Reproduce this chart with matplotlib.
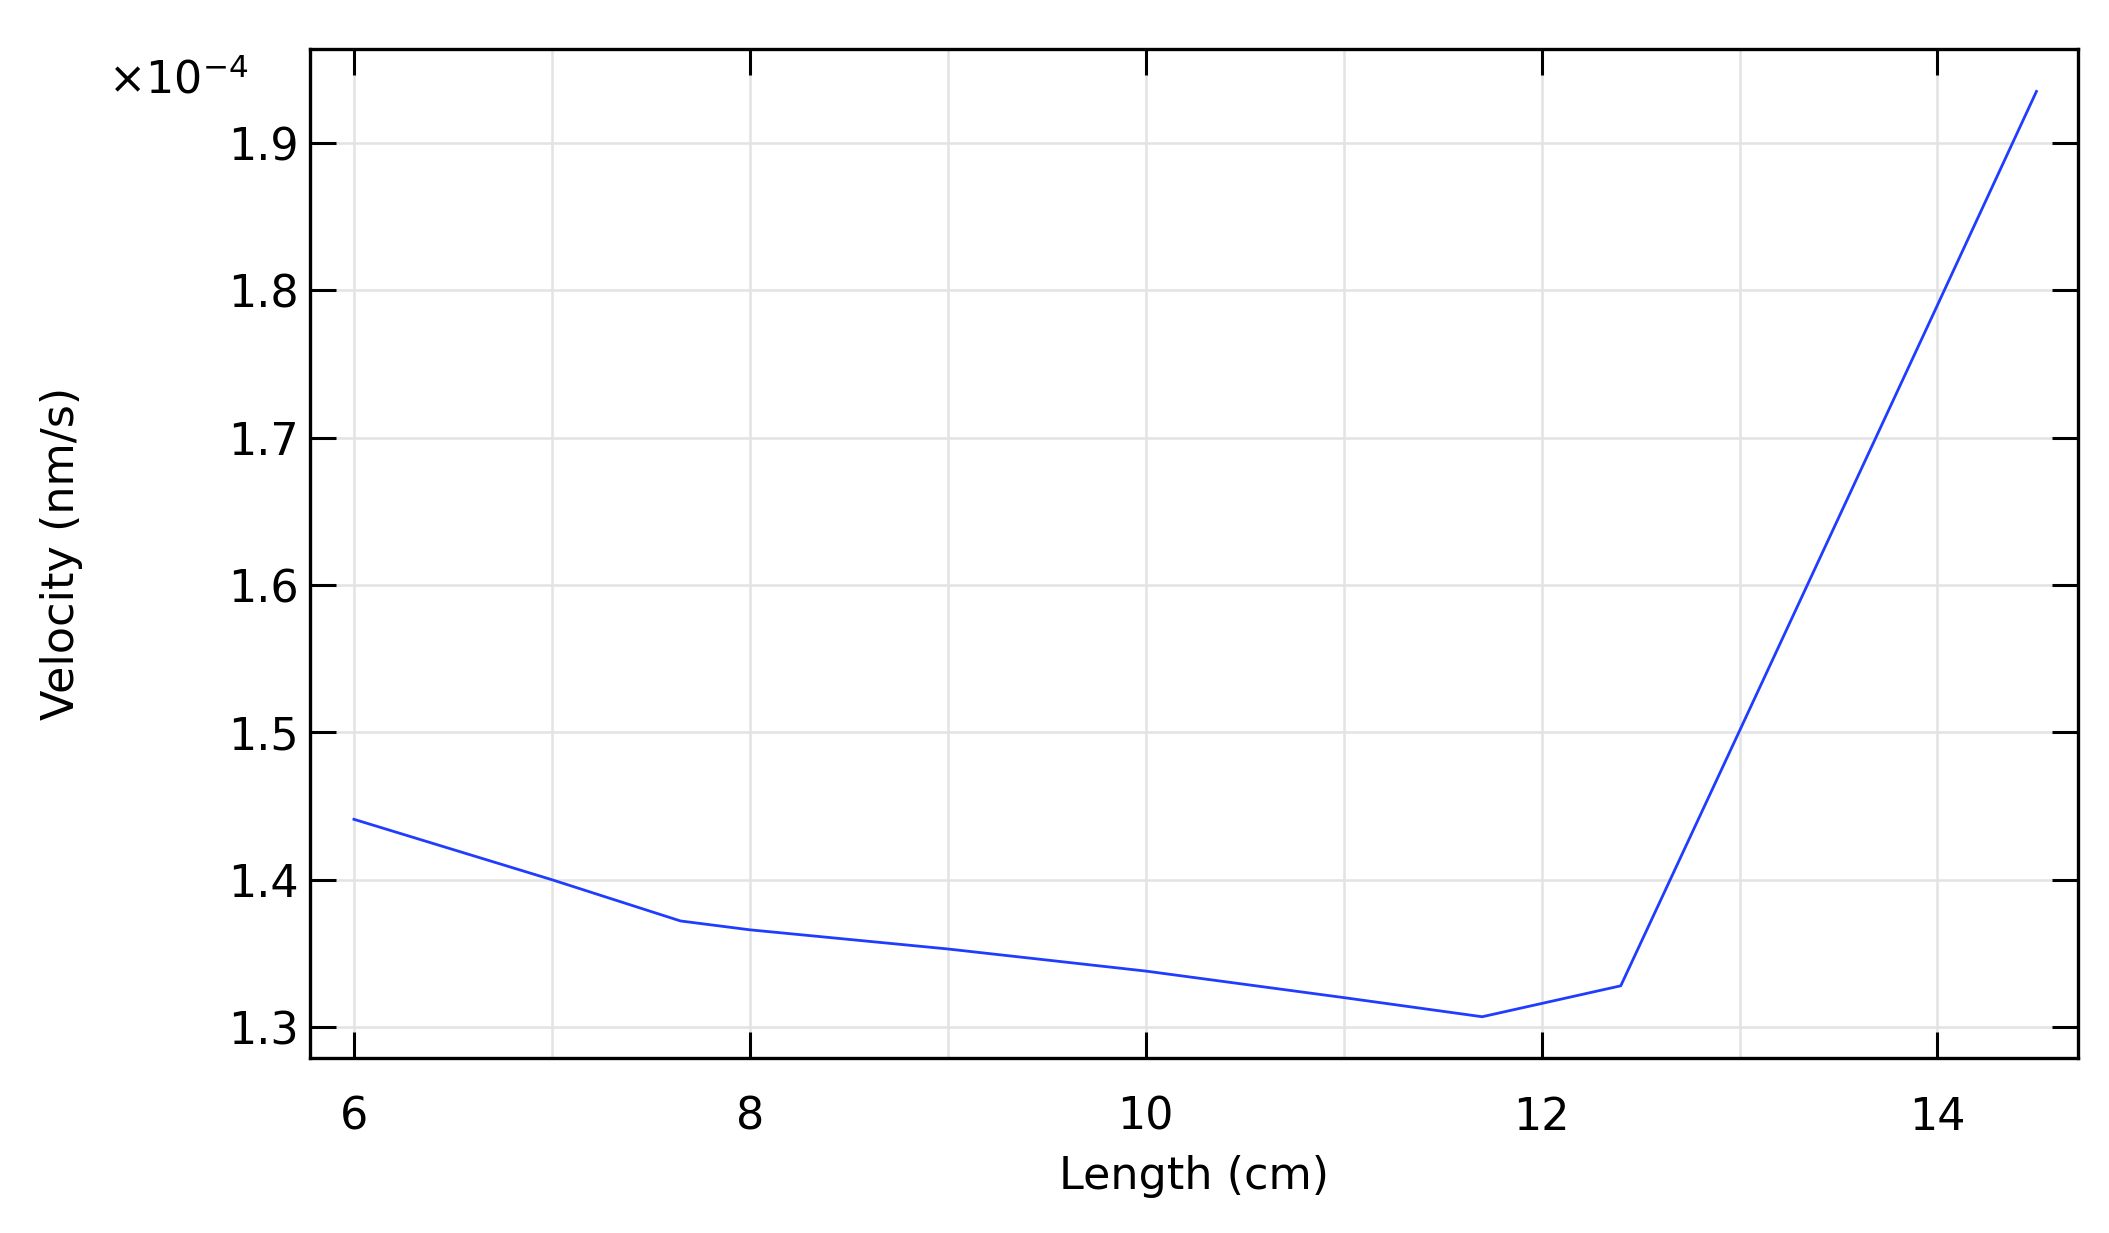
import matplotlib
matplotlib.use("Agg")
import matplotlib.pyplot as plt

# Data (velocity in units of 1e-4 nm/s)
length_cm = [6.0, 7.0, 7.65, 8.0, 9.0, 10.0, 11.0, 11.7, 12.4, 13.0, 14.0, 14.5]
velocity = [1.441, 1.400, 1.372, 1.366, 1.353, 1.338, 1.320, 1.307, 1.328, 1.501, 1.790, 1.935]

xticks = [6, 8, 10, 12, 14]
yticks = [1.3, 1.4, 1.5, 1.6, 1.7, 1.8, 1.9]
ytick_labels = ["1.3", "1.4", "1.5", "1.6", "1.7", "1.8", "1.9"]

W, H, DPI = 2109, 1233, 100
fig = plt.figure(figsize=(W / DPI, H / DPI), dpi=DPI)
left, right, top, bottom = 310, 2078, 49, 1058
ax = fig.add_axes([left / W, 1 - bottom / H, (right - left) / W, (bottom - top) / H])

ax.plot(length_cm, velocity, color="#1f3cff", lw=2.0)

ax.set_xlim(5.778, 14.71)
ax.set_ylim(1.279, 1.9638)
ax.set_xticks(xticks)
ax.set_xticklabels([str(t) for t in xticks])
ax.set_yticks(yticks)
ax.set_yticklabels(ytick_labels)
ax.set_xticks([7, 9, 11, 13], minor=True)
ax.tick_params(which="minor", length=0)
ax.grid(True, which="both", color="#e3e3e3", lw=1.8)
ax.set_axisbelow(True)

ax.tick_params(which="major", direction="in", length=19, width=2.2,
               top=True, right=True, labelsize=32, colors="black")
ax.tick_params(axis="y", pad=8)
ax.tick_params(axis="x", pad=27)
for s in ax.spines.values():
    s.set_linewidth(2.4)

ax.set_xlabel("Length (cm)", fontsize=32, labelpad=12)
ax.set_ylabel("Velocity (nm/s)", fontsize=32)
ax.yaxis.set_label_coords((83 - left) / (right - left), 0.5)

fig.text(108 / W, 1 - 93 / H, r"$\times$10$^{-4}$", fontsize=32, ha="left", va="baseline")

fig.savefig("out.png", dpi=DPI)
